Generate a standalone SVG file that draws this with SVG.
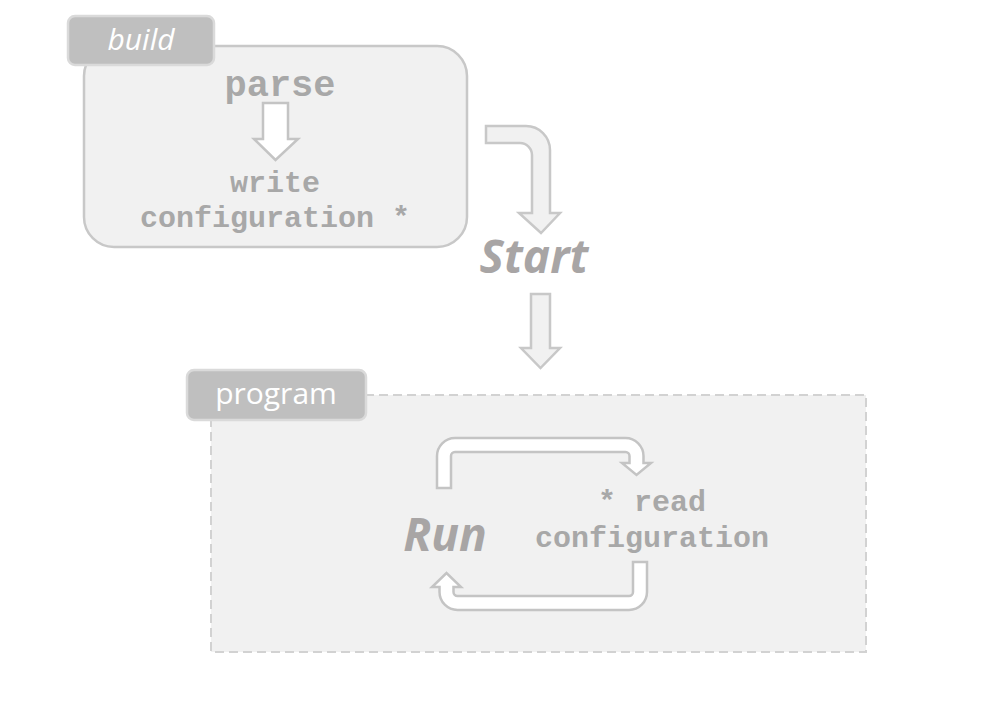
<svg xmlns="http://www.w3.org/2000/svg" width="989" height="711" viewBox="0 0 989 711">
<style>
.bg{fill:#ffffff}
.box{fill:#f1f1f1;stroke:#c8c8c8;stroke-width:2.5}
.dash{fill:#f1f1f1;stroke:#d2d2d2;stroke-width:2;stroke-dasharray:9,5}
.tab{fill:#bfbfbf;stroke:#dadada;stroke-width:2.5}
.tabtxt{font-family:"Open Sans","Liberation Sans",sans-serif;fill:#ffffff;font-size:30px;text-anchor:middle}
.mono{font-family:"Liberation Mono","Courier New",monospace;font-weight:bold;fill:#a8a8a8;text-anchor:middle}
.big{font-family:"Open Sans","Liberation Sans",sans-serif;font-weight:bold;font-style:italic;fill:#a8a5a5;font-size:46px;text-anchor:middle}
.arrW{fill:#ffffff;stroke:#c4c4c4;stroke-width:2.5;stroke-linejoin:miter}
.arrG{fill:#f1f1f1;stroke:#c8c8c8;stroke-width:2.5;stroke-linejoin:miter}
</style>
<rect class="bg" x="0" y="0" width="989" height="711"/>
<g id="build">
<rect class="box" x="84" y="46" width="383" height="201" rx="30" ry="30"/>
<rect class="tab" x="68" y="16" width="146" height="49" rx="7" ry="7"/>
<text class="tabtxt" x="141" y="50" font-style="italic">build</text>
<text class="mono" x="280" y="96" font-size="37">parse</text>
<path class="arrW" d="M263,103 H288 V139 H298 L275.5,160 L254,139 H263 Z"/>
<text class="mono" x="275" y="192" font-size="30">write</text>
<text class="mono" x="275" y="227" font-size="30">configuration *</text>
</g>
<g id="start">
<text class="big" x="534" y="273">Start</text>
</g>
<g id="program">
<rect class="dash" x="211" y="395" width="655" height="257"/>
<rect class="tab" x="187" y="370" width="179" height="50" rx="7" ry="7"/>
<text class="tabtxt" x="276" y="404">program</text>
<text class="big" x="445" y="551">Run</text>
<text class="mono" x="652" y="511" font-size="30">* read</text>
<text class="mono" x="652" y="547" font-size="30">configuration</text>
</g>
<g id="connectors">
<path class="arrG" d="M486,126 H526 A24,24 0 0 1 550,150 V213 H560 L541,233 L519,213 H532 V155 A12,12 0 0 0 520,143 H486 Z"/>
<path class="arrG" d="M531,294 H550 V348 H560 L540.5,368 L521,348 H531 Z"/>
<path class="arrW" d="M437,488 V456 A18,18 0 0 1 455,438 H625.5 A18,18 0 0 1 643.5,456 V463 H651 L636.5,475 L622,463 H629.5 V456 A4,4 0 0 0 625.5,452 H455 A4,4 0 0 0 451,456 V488 Z"/>
<path class="arrW" d="M647,562 V592 A18,18 0 0 1 629,610 H457.5 A18,18 0 0 1 439.5,592 V587 H432 L446.5,573 L461,587 H453.5 V592 A4,4 0 0 0 457.5,596 H629 A4,4 0 0 0 633,592 V562 Z"/>
</g>
</svg>
